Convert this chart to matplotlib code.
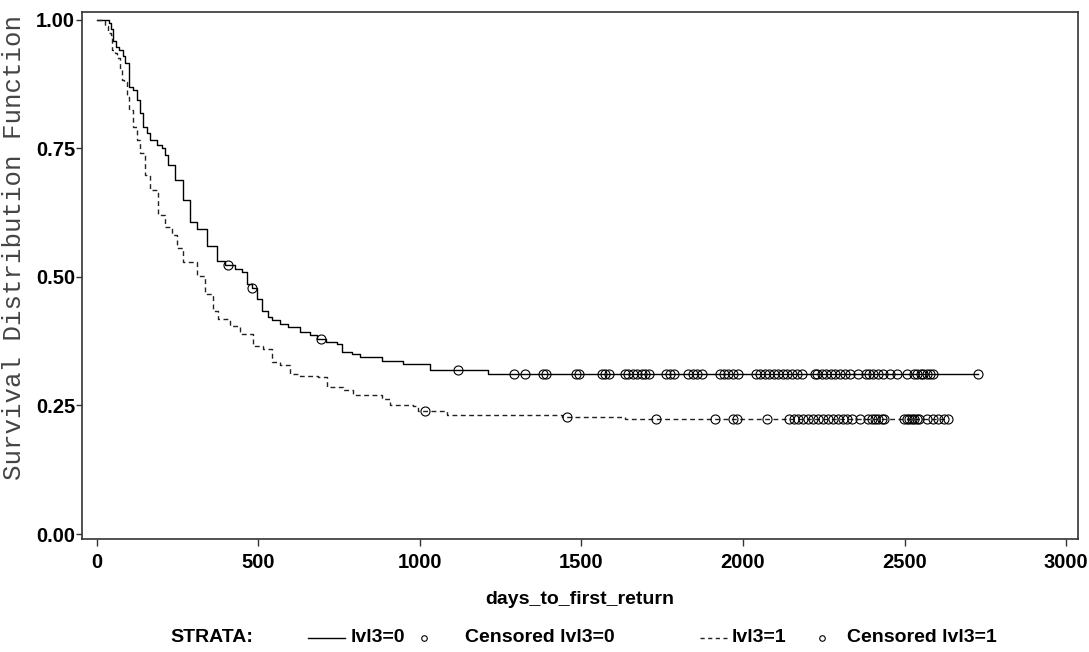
import matplotlib.pyplot as plt
from matplotlib.lines import Line2D
import numpy as np

# Kaplan-Meier step points (day, survival)
t0 = [0, 37, 43, 50, 59, 68, 80, 87, 99, 111, 124, 133, 142, 155, 164, 186, 201, 211,
      220, 241, 266, 288, 310, 341, 372, 396, 427, 449, 464, 480, 495, 511, 529, 542,
      567, 591, 628, 659, 680, 709, 743, 759, 789, 814, 882, 947, 1031, 1210]
s0 = [1.0, 0.994, 0.981, 0.959, 0.946, 0.940, 0.930, 0.915, 0.868, 0.863, 0.843, 0.818,
      0.791, 0.779, 0.766, 0.756, 0.750, 0.737, 0.718, 0.689, 0.650, 0.607, 0.592, 0.559,
      0.530, 0.522, 0.515, 0.509, 0.485, 0.478, 0.456, 0.433, 0.422, 0.416, 0.408, 0.402,
      0.393, 0.387, 0.379, 0.373, 0.369, 0.354, 0.350, 0.344, 0.337, 0.331, 0.319, 0.311]

t1 = [0, 25, 34, 43, 46, 56, 62, 71, 77, 84, 93, 99, 111, 124, 133, 149, 164, 189, 211,
      232, 248, 266, 310, 334, 359, 375, 412, 443, 483, 514, 542, 567, 598, 628, 684, 712,
      762, 793, 882, 907, 978, 995, 1084, 1440, 1635]
s1 = [1.0, 0.988, 0.973, 0.969, 0.940, 0.934, 0.925, 0.901, 0.882, 0.878, 0.849, 0.824,
      0.791, 0.766, 0.741, 0.698, 0.669, 0.621, 0.596, 0.582, 0.555, 0.528, 0.501, 0.466,
      0.433, 0.418, 0.404, 0.389, 0.366, 0.360, 0.335, 0.329, 0.311, 0.308, 0.306, 0.286,
      0.279, 0.271, 0.263, 0.250, 0.248, 0.240, 0.232, 0.228, 0.224]

# censored times
c0 = [405, 480, 694, 1118, 1291, 1325, 1381, 1390, 1483, 1492, 1563, 1573, 1585, 1635,
      1644, 1659, 1672, 1687, 1697, 1709, 1762, 1774, 1786, 1830, 1845, 1858, 1873, 1929,
      1941, 1954, 1969, 1985, 2040, 2053, 2068, 2080, 2096, 2108, 2124, 2136, 2152, 2167,
      2183, 2223, 2229, 2245, 2257, 2272, 2285, 2300, 2316, 2331, 2356, 2381, 2390, 2402,
      2418, 2433, 2455, 2477, 2508, 2529, 2539, 2551, 2557, 2570, 2579, 2588, 2728]
c1 = [1015, 1455, 1731, 1913, 1969, 1981, 2074, 2142, 2158, 2170, 2186, 2201, 2217, 2232,
      2248, 2263, 2279, 2294, 2310, 2322, 2337, 2362, 2387, 2399, 2409, 2418, 2430, 2437,
      2498, 2508, 2514, 2523, 2529, 2539, 2545, 2570, 2588, 2604, 2622, 2635]

xticks = [0, 500, 1000, 1500, 2000, 2500, 3000]
yticks = [0.0, 0.25, 0.5, 0.75, 1.0]

W, H = 1089, 652
fig = plt.figure(figsize=(W / 100, H / 100), dpi=100)
ax = fig.add_axes([82 / W, 1 - 539 / H, (1078 - 82) / W, (539 - 12) / H])

tickfont = dict(family='Liberation Sans', weight='bold', size=14.5)
bold = dict(family='Liberation Sans', weight='bold', size=14)


def km_value(t, s, c):
    idx = np.searchsorted(t, c, side='right') - 1
    return np.asarray(s)[idx]


# extend each curve to the last censored time
x0 = t0 + [max(c0)]
y0 = s0 + [s0[-1]]
x1 = t1 + [max(c1)]
y1 = s1 + [s1[-1]]

ax.plot(x0, y0, drawstyle='steps-post', color='black', lw=1.0)
ax.plot(x1, y1, drawstyle='steps-post', color='#222222', lw=1.0, dashes=(3.5, 2.5))

ax.plot(c0, km_value(t0, s0, c0), 'o', mfc='none', mec='black', ms=6.5, mew=0.8)
ax.plot(c1, km_value(t1, s1, c1), 'o', mfc='none', mec='black', ms=6.5, mew=0.8)

ax.set_xlim(-46, 3037)
ax.set_ylim(-0.0097, 1.0146)
ax.set_xticks(xticks)
ax.set_xticklabels([str(v) for v in xticks], fontdict=tickfont)
ax.set_yticks(yticks)
ax.set_yticklabels(['%.2f' % v for v in yticks], fontdict=tickfont)
ax.tick_params(direction='out', length=4, width=1, color='#333333', pad=1)
ax.tick_params(axis='x', length=5, pad=5)
for sp in ax.spines.values():
    sp.set_color('#333333')
    sp.set_linewidth(1.2)

ax.set_xlabel('days_to_first_return', fontdict=bold, labelpad=14)

fig.text(14 / W, 1 - 248 / H, 'Survival Distribution Function', rotation=90,
         family='Liberation Mono', size=18.5, color='#444444', ha='center', va='center')

# legend
ly = 1 - 638 / H
fig.text(170 / W, ly, 'STRATA:', ha='left', va='center', **bold)
fig.add_artist(Line2D([308 / W, 345 / W], [ly, ly], color='black', lw=1.0,
                      transform=fig.transFigure))
fig.text(351 / W, ly, 'lvl3=0', ha='left', va='center', **bold)
fig.add_artist(Line2D([424 / W], [ly], marker='o', mfc='none', mec='black', ms=4,
                      mew=0.8, transform=fig.transFigure))
fig.text(465 / W, ly, 'Censored lvl3=0', ha='left', va='center', **bold)
fig.add_artist(Line2D([700 / W, 727 / W], [ly, ly], color='#222222', lw=1.0,
                      dashes=(3, 2.5), transform=fig.transFigure))
fig.text(732 / W, ly, 'lvl3=1', ha='left', va='center', **bold)
fig.add_artist(Line2D([822 / W], [ly], marker='o', mfc='none', mec='black', ms=4,
                      mew=0.8, transform=fig.transFigure))
fig.text(847 / W, ly, 'Censored lvl3=1', ha='left', va='center', **bold)

fig.savefig('out.png', dpi=100)
